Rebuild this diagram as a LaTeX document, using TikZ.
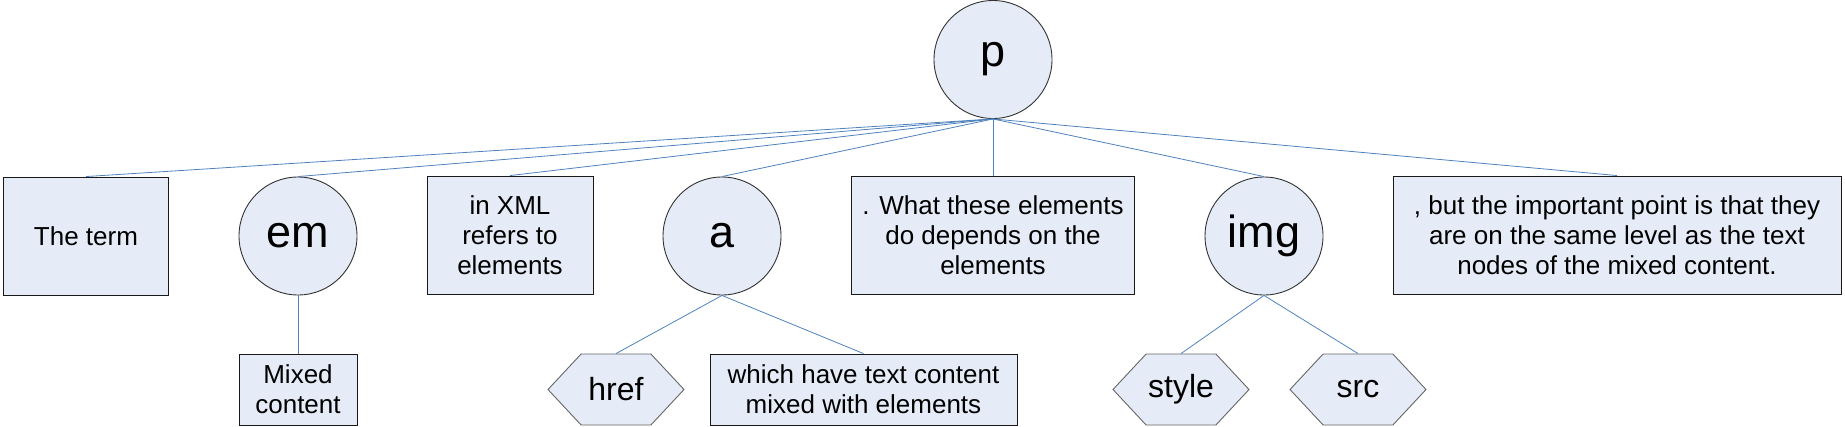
\documentclass[tikz,border=0pt]{standalone}
\usepackage{fontspec}
\setmainfont{Liberation Sans}
\usetikzlibrary{shapes.symbols}
\definecolor{nodefill}{HTML}{E6ECF7}
\definecolor{linkblue}{HTML}{4F81BD}
\begin{document}
\begin{tikzpicture}[x=1pt,y=-1pt,
    elem/.style={circle,draw=black!80,fill=nodefill,line width=0.9pt,
      minimum size=118pt,inner sep=0pt,font=\fontsize{45}{54}\selectfont},
    txt/.style={rectangle,draw=black!90,fill=nodefill,line width=0.9pt,
      inner sep=0pt,align=center,font=\fontsize{26}{30}\selectfont},
    attr/.style={signal,signal to=west and east,signal pointer angle=94,
      draw=black!60,fill=nodefill,line width=0.9pt,minimum width=136pt,
      minimum height=71pt,inner sep=0pt,font=\fontsize{32}{38}\selectfont},
    link/.style={linkblue,line width=0.8pt}]
    \useasboundingbox (0,0) rectangle (1845,426);

    % root
    \node[elem] (p) at (993,59.5) {p};

    % children of p
    \node[txt,minimum width=165pt,minimum height=118pt] (term) at (86,236) {The term};
    \node[elem] (em) at (298,236) {em};
    \node[txt,minimum width=166pt,minimum height=118pt] (xml) at (510,235)
        {in XML\\refers to\\elements};
    \node[elem] (a) at (722,236) {a};
    \node[txt,minimum width=283pt,minimum height=118pt] (what) at (993,235)
        {. What these elements\\do depends on the\\elements};
    \node[elem] (img) at (1264,236) {img};
    \node[txt,minimum width=448pt,minimum height=118pt] (point) at (1617,235)
        {, but the important point is that they\\are on the same level as the text\\nodes of the mixed content.};

    % grandchildren
    \node[txt,minimum width=118pt,minimum height=71pt] (mixed) at (298,389.5) {Mixed\\content};
    \node[attr] (href) at (616,389.5) {href};
    \node[txt,minimum width=307pt,minimum height=71pt] (which) at (863.5,389.5)
        {which have text content\\mixed with elements};
    \node[attr] (style) at (1181,389.5) {style};
    \node[attr] (src) at (1358,389.5) {src};

    \foreach \kid in {term,em,xml,a,what,img,point}
        \draw[link] (p.south) -- (\kid.north);
    \draw[link] (em.south) -- (mixed.north);
    \draw[link] (a.south) -- (href.north);
    \draw[link] (a.south) -- (which.north);
    \draw[link] (img.south) -- (style.north);
    \draw[link] (img.south) -- (src.north);
\end{tikzpicture}
\end{document}
